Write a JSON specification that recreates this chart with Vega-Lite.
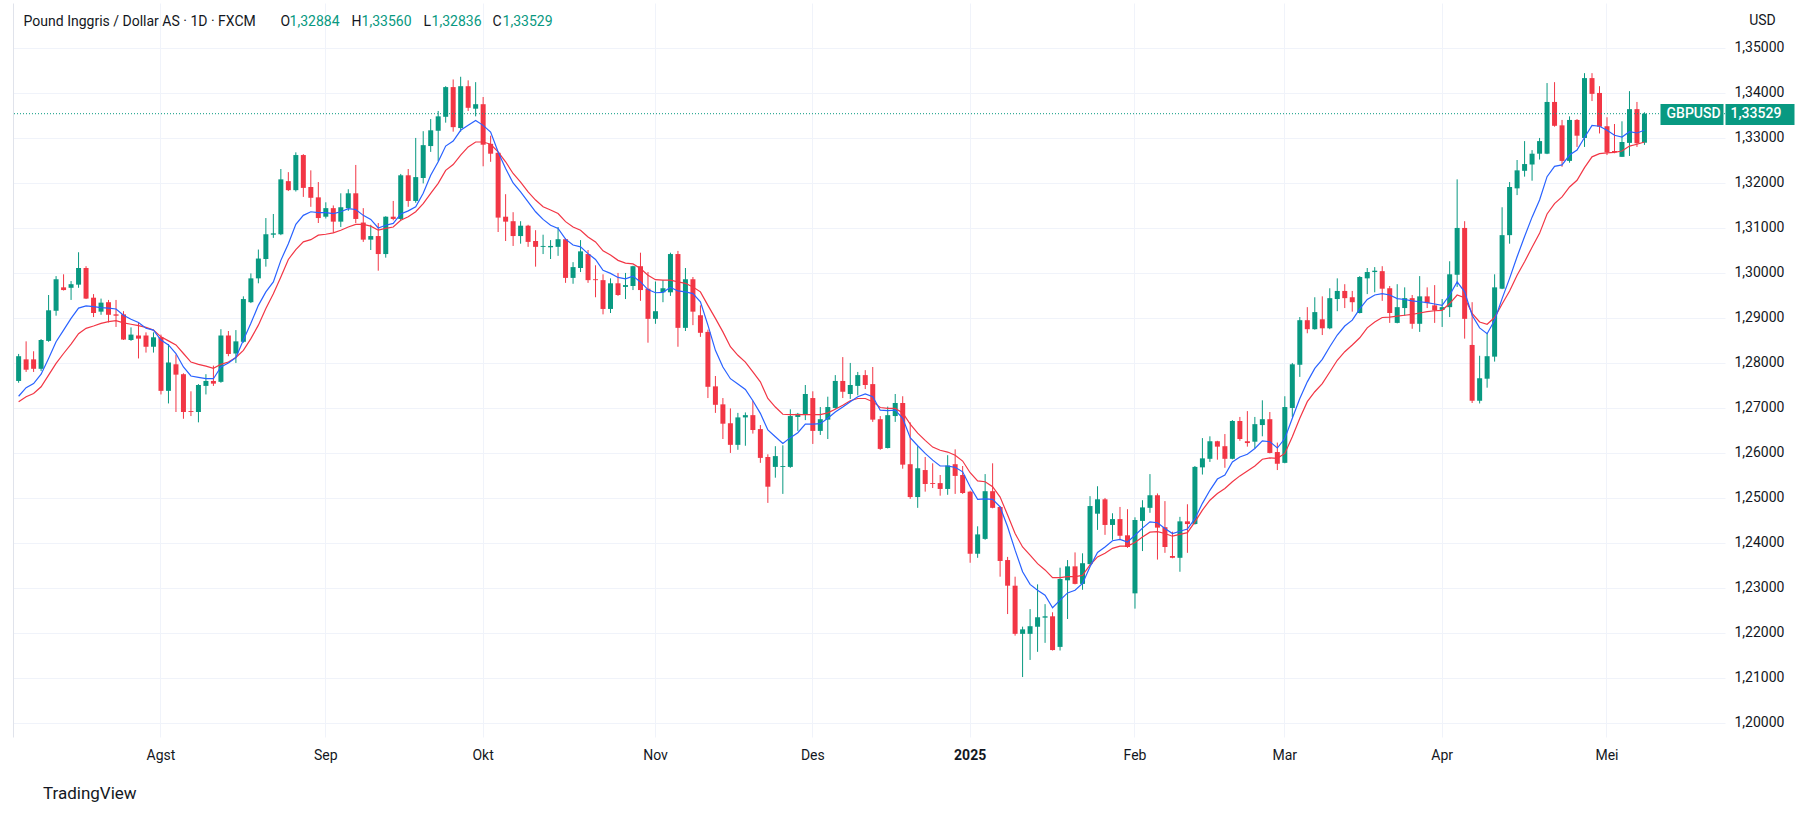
{
  "$schema": "https://vega.github.io/schema/vega-lite/v6.json",
  "width": 1712,
  "height": 734,
  "autosize": {"type": "none"},
  "padding": {"left": 13, "top": 3, "right": 88, "bottom": 79},
  "background": "#ffffff",
  "config": {
    "view": {"stroke": null},
    "font": "Roboto",
    "axis": {"domain": false, "ticks": false, "tickSize": 0, "labelFont": "Roboto", "labelColor": "#131722", "titleFont": "Roboto"}
  },
  "title": {"text": "TradingView", "orient": "bottom", "anchor": "start", "frame": "group", "dx": 30, "offset": 24, "fontSize": 17, "fontWeight": "normal", "color": "#131722", "font": "Roboto"},
  "data": {"values": [
    {"d":"2024-07-05","o":1.2759,"h":1.2819,"l":1.2755,"c":1.2814,"m1":1.2725,"m2":1.2713},
    {"d":"2024-07-08","o":1.2807,"h":1.2847,"l":1.2779,"c":1.2784,"m1":1.2744,"m2":1.2724},
    {"d":"2024-07-09","o":1.2807,"h":1.2825,"l":1.2779,"c":1.2786,"m1":1.2753,"m2":1.2731},
    {"d":"2024-07-10","o":1.2786,"h":1.2852,"l":1.2781,"c":1.2850,"m1":1.2774,"m2":1.2746},
    {"d":"2024-07-11","o":1.2848,"h":1.2950,"l":1.2846,"c":1.2916,"m1":1.2809,"m2":1.2772},
    {"d":"2024-07-12","o":1.2915,"h":1.2992,"l":1.2904,"c":1.2985,"m1":1.2846,"m2":1.2798},
    {"d":"2024-07-15","o":1.2967,"h":1.2996,"l":1.2960,"c":1.2961,"m1":1.2872,"m2":1.2820},
    {"d":"2024-07-16","o":1.2966,"h":1.2981,"l":1.2939,"c":1.2974,"m1":1.2898,"m2":1.2841},
    {"d":"2024-07-17","o":1.2973,"h":1.3045,"l":1.2966,"c":1.3010,"m1":1.2921,"m2":1.2864},
    {"d":"2024-07-18","o":1.3010,"h":1.3014,"l":1.2941,"c":1.2942,"m1":1.2926,"m2":1.2876},
    {"d":"2024-07-19","o":1.2944,"h":1.2952,"l":1.2901,"c":1.2910,"m1":1.2924,"m2":1.2881},
    {"d":"2024-07-22","o":1.2913,"h":1.2942,"l":1.2906,"c":1.2933,"m1":1.2922,"m2":1.2887},
    {"d":"2024-07-23","o":1.2934,"h":1.2939,"l":1.2889,"c":1.2906,"m1":1.2921,"m2":1.2891},
    {"d":"2024-07-24","o":1.2907,"h":1.2939,"l":1.2879,"c":1.2904,"m1":1.2919,"m2":1.2893},
    {"d":"2024-07-25","o":1.2907,"h":1.2914,"l":1.2850,"c":1.2851,"m1":1.2905,"m2":1.2888},
    {"d":"2024-07-26","o":1.2850,"h":1.2878,"l":1.2848,"c":1.2862,"m1":1.2896,"m2":1.2885},
    {"d":"2024-07-29","o":1.2860,"h":1.2889,"l":1.2809,"c":1.2853,"m1":1.2889,"m2":1.2882},
    {"d":"2024-07-30","o":1.2860,"h":1.2867,"l":1.2822,"c":1.2835,"m1":1.2876,"m2":1.2878},
    {"d":"2024-07-31","o":1.2835,"h":1.2867,"l":1.2822,"c":1.2856,"m1":1.2872,"m2":1.2872},
    {"d":"2024-08-01","o":1.2856,"h":1.2862,"l":1.2729,"c":1.2737,"m1":1.2850,"m2":1.2857},
    {"d":"2024-08-02","o":1.2737,"h":1.2841,"l":1.2709,"c":1.2800,"m1":1.2839,"m2":1.2848},
    {"d":"2024-08-05","o":1.2796,"h":1.2818,"l":1.2690,"c":1.2773,"m1":1.2820,"m2":1.2839},
    {"d":"2024-08-06","o":1.2774,"h":1.2776,"l":1.2675,"c":1.2690,"m1":1.2790,"m2":1.2820},
    {"d":"2024-08-07","o":1.2692,"h":1.2736,"l":1.2681,"c":1.2690,"m1":1.2770,"m2":1.2801},
    {"d":"2024-08-08","o":1.2690,"h":1.2752,"l":1.2667,"c":1.2750,"m1":1.2767,"m2":1.2796},
    {"d":"2024-08-09","o":1.2748,"h":1.2774,"l":1.2729,"c":1.2759,"m1":1.2764,"m2":1.2792},
    {"d":"2024-08-12","o":1.2759,"h":1.2793,"l":1.2748,"c":1.2753,"m1":1.2764,"m2":1.2787},
    {"d":"2024-08-13","o":1.2757,"h":1.2874,"l":1.2755,"c":1.2860,"m1":1.2790,"m2":1.2796},
    {"d":"2024-08-14","o":1.2860,"h":1.2870,"l":1.2814,"c":1.2819,"m1":1.2799,"m2":1.2801},
    {"d":"2024-08-15","o":1.2820,"h":1.2872,"l":1.2799,"c":1.2847,"m1":1.2811,"m2":1.2811},
    {"d":"2024-08-16","o":1.2846,"h":1.2947,"l":1.2844,"c":1.2941,"m1":1.2850,"m2":1.2827},
    {"d":"2024-08-19","o":1.2934,"h":1.2998,"l":1.2932,"c":1.2987,"m1":1.2887,"m2":1.2853},
    {"d":"2024-08-20","o":1.2987,"h":1.3051,"l":1.2976,"c":1.3031,"m1":1.2927,"m2":1.2883},
    {"d":"2024-08-21","o":1.3030,"h":1.3121,"l":1.3013,"c":1.3085,"m1":1.2957,"m2":1.2920},
    {"d":"2024-08-22","o":1.3084,"h":1.3130,"l":1.3077,"c":1.3087,"m1":1.2979,"m2":1.2953},
    {"d":"2024-08-23","o":1.3085,"h":1.3230,"l":1.3083,"c":1.3207,"m1":1.3027,"m2":1.2990},
    {"d":"2024-08-26","o":1.3203,"h":1.3223,"l":1.3181,"c":1.3183,"m1":1.3064,"m2":1.3029},
    {"d":"2024-08-27","o":1.3183,"h":1.3267,"l":1.3180,"c":1.3261,"m1":1.3107,"m2":1.3051},
    {"d":"2024-08-28","o":1.3261,"h":1.3263,"l":1.3168,"c":1.3188,"m1":1.3127,"m2":1.3068},
    {"d":"2024-08-29","o":1.3190,"h":1.3227,"l":1.3146,"c":1.3166,"m1":1.3135,"m2":1.3073},
    {"d":"2024-08-30","o":1.3167,"h":1.3201,"l":1.3110,"c":1.3121,"m1":1.3133,"m2":1.3083},
    {"d":"2024-09-02","o":1.3124,"h":1.3156,"l":1.3120,"c":1.3143,"m1":1.3133,"m2":1.3085},
    {"d":"2024-09-03","o":1.3143,"h":1.3149,"l":1.3088,"c":1.3113,"m1":1.3131,"m2":1.3088},
    {"d":"2024-09-04","o":1.3113,"h":1.3176,"l":1.3101,"c":1.3145,"m1":1.3135,"m2":1.3094},
    {"d":"2024-09-05","o":1.3143,"h":1.3185,"l":1.3137,"c":1.3176,"m1":1.3142,"m2":1.3101},
    {"d":"2024-09-06","o":1.3176,"h":1.3239,"l":1.3110,"c":1.3119,"m1":1.3140,"m2":1.3107},
    {"d":"2024-09-09","o":1.3111,"h":1.3143,"l":1.3068,"c":1.3073,"m1":1.3127,"m2":1.3107},
    {"d":"2024-09-10","o":1.3073,"h":1.3106,"l":1.3050,"c":1.3081,"m1":1.3118,"m2":1.3103},
    {"d":"2024-09-11","o":1.3081,"h":1.3110,"l":1.3004,"c":1.3041,"m1":1.3099,"m2":1.3094},
    {"d":"2024-09-12","o":1.3041,"h":1.3125,"l":1.3033,"c":1.3124,"m1":1.3105,"m2":1.3098},
    {"d":"2024-09-13","o":1.3124,"h":1.3159,"l":1.3116,"c":1.3119,"m1":1.3109,"m2":1.3101},
    {"d":"2024-09-16","o":1.3119,"h":1.3219,"l":1.3115,"c":1.3216,"m1":1.3130,"m2":1.3116},
    {"d":"2024-09-17","o":1.3216,"h":1.3230,"l":1.3146,"c":1.3159,"m1":1.3137,"m2":1.3124},
    {"d":"2024-09-18","o":1.3159,"h":1.3299,"l":1.3155,"c":1.3212,"m1":1.3146,"m2":1.3135},
    {"d":"2024-09-19","o":1.3210,"h":1.3314,"l":1.3198,"c":1.3283,"m1":1.3176,"m2":1.3153},
    {"d":"2024-09-20","o":1.3281,"h":1.3341,"l":1.3268,"c":1.3316,"m1":1.3216,"m2":1.3176},
    {"d":"2024-09-23","o":1.3315,"h":1.3359,"l":1.3247,"c":1.3347,"m1":1.3246,"m2":1.3198},
    {"d":"2024-09-24","o":1.3346,"h":1.3414,"l":1.3333,"c":1.3412,"m1":1.3281,"m2":1.3227},
    {"d":"2024-09-25","o":1.3412,"h":1.3429,"l":1.3313,"c":1.3323,"m1":1.3292,"m2":1.3240},
    {"d":"2024-09-26","o":1.3321,"h":1.3435,"l":1.3313,"c":1.3414,"m1":1.3316,"m2":1.3261},
    {"d":"2024-09-27","o":1.3414,"h":1.3427,"l":1.3359,"c":1.3366,"m1":1.3327,"m2":1.3279},
    {"d":"2024-09-30","o":1.3364,"h":1.3423,"l":1.3347,"c":1.3374,"m1":1.3338,"m2":1.3290},
    {"d":"2024-10-01","o":1.3374,"h":1.3390,"l":1.3236,"c":1.3284,"m1":1.3327,"m2":1.3290},
    {"d":"2024-10-02","o":1.3286,"h":1.3304,"l":1.3246,"c":1.3264,"m1":1.3312,"m2":1.3285},
    {"d":"2024-10-03","o":1.3266,"h":1.3268,"l":1.3090,"c":1.3122,"m1":1.3268,"m2":1.3268},
    {"d":"2024-10-04","o":1.3124,"h":1.3174,"l":1.3070,"c":1.3113,"m1":1.3231,"m2":1.3246},
    {"d":"2024-10-07","o":1.3114,"h":1.3134,"l":1.3059,"c":1.3081,"m1":1.3199,"m2":1.3220},
    {"d":"2024-10-08","o":1.3081,"h":1.3114,"l":1.3064,"c":1.3104,"m1":1.3179,"m2":1.3201},
    {"d":"2024-10-09","o":1.3104,"h":1.3106,"l":1.3057,"c":1.3068,"m1":1.3157,"m2":1.3179},
    {"d":"2024-10-10","o":1.3070,"h":1.3094,"l":1.3013,"c":1.3057,"m1":1.3135,"m2":1.3161},
    {"d":"2024-10-11","o":1.3057,"h":1.3084,"l":1.3041,"c":1.3059,"m1":1.3118,"m2":1.3146},
    {"d":"2024-10-14","o":1.3056,"h":1.3072,"l":1.3030,"c":1.3059,"m1":1.3105,"m2":1.3139},
    {"d":"2024-10-15","o":1.3057,"h":1.3101,"l":1.3037,"c":1.3074,"m1":1.3098,"m2":1.3131},
    {"d":"2024-10-16","o":1.3074,"h":1.3076,"l":1.2977,"c":1.2988,"m1":1.3074,"m2":1.3113},
    {"d":"2024-10-17","o":1.2988,"h":1.3023,"l":1.2975,"c":1.3012,"m1":1.3061,"m2":1.3101},
    {"d":"2024-10-18","o":1.3010,"h":1.3072,"l":1.3001,"c":1.3047,"m1":1.3057,"m2":1.3094},
    {"d":"2024-10-21","o":1.3041,"h":1.3050,"l":1.2977,"c":1.2983,"m1":1.3042,"m2":1.3079},
    {"d":"2024-10-22","o":1.2985,"h":1.3016,"l":1.2945,"c":1.2983,"m1":1.3029,"m2":1.3068},
    {"d":"2024-10-23","o":1.2983,"h":1.2996,"l":1.2907,"c":1.2919,"m1":1.3005,"m2":1.3048},
    {"d":"2024-10-24","o":1.2919,"h":1.2987,"l":1.2910,"c":1.2976,"m1":1.2998,"m2":1.3039},
    {"d":"2024-10-25","o":1.2976,"h":1.2999,"l":1.2948,"c":1.2950,"m1":1.2989,"m2":1.3027},
    {"d":"2024-10-28","o":1.2968,"h":1.2999,"l":1.2941,"c":1.2972,"m1":1.2986,"m2":1.3021},
    {"d":"2024-10-29","o":1.2970,"h":1.3015,"l":1.2961,"c":1.3014,"m1":1.2992,"m2":1.3019},
    {"d":"2024-10-30","o":1.3014,"h":1.3044,"l":1.2937,"c":1.2961,"m1":1.2979,"m2":1.3009},
    {"d":"2024-10-31","o":1.2964,"h":1.3001,"l":1.2844,"c":1.2897,"m1":1.2962,"m2":1.2994},
    {"d":"2024-11-01","o":1.2897,"h":1.2980,"l":1.2886,"c":1.2914,"m1":1.2955,"m2":1.2984},
    {"d":"2024-11-04","o":1.2956,"h":1.2983,"l":1.2934,"c":1.2965,"m1":1.2956,"m2":1.2983},
    {"d":"2024-11-05","o":1.2956,"h":1.3044,"l":1.2948,"c":1.3041,"m1":1.2967,"m2":1.2983},
    {"d":"2024-11-06","o":1.3041,"h":1.3048,"l":1.2835,"c":1.2877,"m1":1.2959,"m2":1.2979},
    {"d":"2024-11-07","o":1.2877,"h":1.3010,"l":1.2870,"c":1.2985,"m1":1.2957,"m2":1.2976},
    {"d":"2024-11-08","o":1.2985,"h":1.2990,"l":1.2883,"c":1.2913,"m1":1.2953,"m2":1.2968},
    {"d":"2024-11-11","o":1.2905,"h":1.2927,"l":1.2857,"c":1.2866,"m1":1.2935,"m2":1.2957},
    {"d":"2024-11-12","o":1.2868,"h":1.2873,"l":1.2721,"c":1.2746,"m1":1.2883,"m2":1.2927},
    {"d":"2024-11-13","o":1.2747,"h":1.2770,"l":1.2688,"c":1.2706,"m1":1.2827,"m2":1.2898},
    {"d":"2024-11-14","o":1.2707,"h":1.2721,"l":1.2630,"c":1.2664,"m1":1.2790,"m2":1.2868},
    {"d":"2024-11-15","o":1.2665,"h":1.2698,"l":1.2599,"c":1.2617,"m1":1.2764,"m2":1.2835},
    {"d":"2024-11-18","o":1.2617,"h":1.2688,"l":1.2606,"c":1.2678,"m1":1.2752,"m2":1.2816},
    {"d":"2024-11-19","o":1.2678,"h":1.2689,"l":1.2615,"c":1.2683,"m1":1.2740,"m2":1.2801},
    {"d":"2024-11-20","o":1.2683,"h":1.2715,"l":1.2642,"c":1.2650,"m1":1.2715,"m2":1.2779},
    {"d":"2024-11-21","o":1.2652,"h":1.2661,"l":1.2577,"c":1.2588,"m1":1.2687,"m2":1.2757},
    {"d":"2024-11-22","o":1.2590,"h":1.2596,"l":1.2488,"c":1.2524,"m1":1.2650,"m2":1.2720},
    {"d":"2024-11-25","o":1.2568,"h":1.2614,"l":1.2544,"c":1.2592,"m1":1.2635,"m2":1.2701},
    {"d":"2024-11-26","o":1.2568,"h":1.2616,"l":1.2508,"c":1.2570,"m1":1.2620,"m2":1.2685},
    {"d":"2024-11-27","o":1.2568,"h":1.2696,"l":1.2566,"c":1.2681,"m1":1.2633,"m2":1.2684},
    {"d":"2024-11-28","o":1.2679,"h":1.2688,"l":1.2648,"c":1.2686,"m1":1.2644,"m2":1.2684},
    {"d":"2024-11-29","o":1.2685,"h":1.2750,"l":1.2672,"c":1.2730,"m1":1.2663,"m2":1.2684},
    {"d":"2024-12-02","o":1.2721,"h":1.2736,"l":1.2619,"c":1.2648,"m1":1.2663,"m2":1.2684},
    {"d":"2024-12-03","o":1.2648,"h":1.2701,"l":1.2639,"c":1.2674,"m1":1.2664,"m2":1.2684},
    {"d":"2024-12-04","o":1.2673,"h":1.2724,"l":1.2630,"c":1.2701,"m1":1.2676,"m2":1.2688},
    {"d":"2024-12-05","o":1.2699,"h":1.2772,"l":1.2697,"c":1.2759,"m1":1.2690,"m2":1.2696},
    {"d":"2024-12-06","o":1.2759,"h":1.2812,"l":1.2721,"c":1.2735,"m1":1.2701,"m2":1.2705},
    {"d":"2024-12-09","o":1.2730,"h":1.2799,"l":1.2719,"c":1.2750,"m1":1.2713,"m2":1.2715},
    {"d":"2024-12-10","o":1.2748,"h":1.2779,"l":1.2727,"c":1.2772,"m1":1.2724,"m2":1.2720},
    {"d":"2024-12-11","o":1.2772,"h":1.2783,"l":1.2741,"c":1.2750,"m1":1.2730,"m2":1.2720},
    {"d":"2024-12-12","o":1.2752,"h":1.2790,"l":1.2668,"c":1.2673,"m1":1.2724,"m2":1.2713},
    {"d":"2024-12-13","o":1.2674,"h":1.2681,"l":1.2606,"c":1.2608,"m1":1.2694,"m2":1.2700},
    {"d":"2024-12-16","o":1.2610,"h":1.2702,"l":1.2609,"c":1.2683,"m1":1.2693,"m2":1.2698},
    {"d":"2024-12-17","o":1.2681,"h":1.2730,"l":1.2668,"c":1.2710,"m1":1.2694,"m2":1.2698},
    {"d":"2024-12-18","o":1.2710,"h":1.2725,"l":1.2564,"c":1.2573,"m1":1.2676,"m2":1.2688},
    {"d":"2024-12-19","o":1.2574,"h":1.2667,"l":1.2497,"c":1.2501,"m1":1.2633,"m2":1.2663},
    {"d":"2024-12-20","o":1.2501,"h":1.2614,"l":1.2477,"c":1.2565,"m1":1.2615,"m2":1.2643},
    {"d":"2024-12-23","o":1.2561,"h":1.2590,"l":1.2513,"c":1.2530,"m1":1.2598,"m2":1.2627},
    {"d":"2024-12-24","o":1.2532,"h":1.2576,"l":1.2521,"c":1.2530,"m1":1.2583,"m2":1.2612},
    {"d":"2024-12-26","o":1.2532,"h":1.2550,"l":1.2504,"c":1.2519,"m1":1.2570,"m2":1.2605},
    {"d":"2024-12-27","o":1.2519,"h":1.2594,"l":1.2506,"c":1.2571,"m1":1.2570,"m2":1.2601},
    {"d":"2024-12-30","o":1.2574,"h":1.2607,"l":1.2508,"c":1.2548,"m1":1.2567,"m2":1.2594},
    {"d":"2024-12-31","o":1.2550,"h":1.2570,"l":1.2508,"c":1.2510,"m1":1.2557,"m2":1.2581},
    {"d":"2025-01-02","o":1.2513,"h":1.2515,"l":1.2355,"c":1.2375,"m1":1.2524,"m2":1.2555},
    {"d":"2025-01-03","o":1.2375,"h":1.2436,"l":1.2366,"c":1.2418,"m1":1.2496,"m2":1.2537},
    {"d":"2025-01-06","o":1.2408,"h":1.2552,"l":1.2406,"c":1.2514,"m1":1.2497,"m2":1.2535},
    {"d":"2025-01-07","o":1.2514,"h":1.2576,"l":1.2476,"c":1.2477,"m1":1.2496,"m2":1.2524},
    {"d":"2025-01-08","o":1.2479,"h":1.2481,"l":1.2324,"c":1.2359,"m1":1.2479,"m2":1.2501},
    {"d":"2025-01-09","o":1.2361,"h":1.2368,"l":1.2241,"c":1.2304,"m1":1.2435,"m2":1.2461},
    {"d":"2025-01-10","o":1.2304,"h":1.2324,"l":1.2193,"c":1.2197,"m1":1.2383,"m2":1.2420},
    {"d":"2025-01-13","o":1.2197,"h":1.2213,"l":1.2101,"c":1.2207,"m1":1.2335,"m2":1.2390},
    {"d":"2025-01-14","o":1.2197,"h":1.2252,"l":1.2139,"c":1.2214,"m1":1.2307,"m2":1.2372},
    {"d":"2025-01-15","o":1.2213,"h":1.2307,"l":1.2157,"c":1.2234,"m1":1.2294,"m2":1.2353},
    {"d":"2025-01-16","o":1.2233,"h":1.2263,"l":1.2177,"c":1.2236,"m1":1.2283,"m2":1.2339},
    {"d":"2025-01-17","o":1.2236,"h":1.2245,"l":1.2160,"c":1.2161,"m1":1.2255,"m2":1.2322},
    {"d":"2025-01-20","o":1.2168,"h":1.2344,"l":1.2160,"c":1.2319,"m1":1.2272,"m2":1.2322},
    {"d":"2025-01-21","o":1.2316,"h":1.2361,"l":1.2230,"c":1.2347,"m1":1.2288,"m2":1.2324},
    {"d":"2025-01-22","o":1.2347,"h":1.2378,"l":1.2307,"c":1.2308,"m1":1.2294,"m2":1.2324},
    {"d":"2025-01-23","o":1.2308,"h":1.2376,"l":1.2295,"c":1.2354,"m1":1.2309,"m2":1.2327},
    {"d":"2025-01-24","o":1.2352,"h":1.2503,"l":1.2351,"c":1.2481,"m1":1.2346,"m2":1.2350},
    {"d":"2025-01-27","o":1.2464,"h":1.2525,"l":1.2428,"c":1.2496,"m1":1.2378,"m2":1.2368},
    {"d":"2025-01-28","o":1.2496,"h":1.2499,"l":1.2417,"c":1.2439,"m1":1.2390,"m2":1.2376},
    {"d":"2025-01-29","o":1.2439,"h":1.2465,"l":1.2406,"c":1.2452,"m1":1.2404,"m2":1.2387},
    {"d":"2025-01-30","o":1.2452,"h":1.2479,"l":1.2406,"c":1.2415,"m1":1.2407,"m2":1.2392},
    {"d":"2025-01-31","o":1.2416,"h":1.2474,"l":1.2388,"c":1.2390,"m1":1.2401,"m2":1.2392},
    {"d":"2025-02-03","o":1.2287,"h":1.2456,"l":1.2253,"c":1.2450,"m1":1.2416,"m2":1.2400},
    {"d":"2025-02-04","o":1.2448,"h":1.2494,"l":1.2381,"c":1.2478,"m1":1.2432,"m2":1.2412},
    {"d":"2025-02-05","o":1.2477,"h":1.2552,"l":1.2466,"c":1.2505,"m1":1.2446,"m2":1.2423},
    {"d":"2025-02-06","o":1.2505,"h":1.2509,"l":1.2362,"c":1.2433,"m1":1.2444,"m2":1.2424},
    {"d":"2025-02-07","o":1.2434,"h":1.2492,"l":1.2377,"c":1.2390,"m1":1.2431,"m2":1.2420},
    {"d":"2025-02-10","o":1.2370,"h":1.2424,"l":1.2365,"c":1.2366,"m1":1.2420,"m2":1.2414},
    {"d":"2025-02-11","o":1.2366,"h":1.2457,"l":1.2335,"c":1.2447,"m1":1.2425,"m2":1.2418},
    {"d":"2025-02-12","o":1.2447,"h":1.2485,"l":1.2377,"c":1.2441,"m1":1.2430,"m2":1.2422},
    {"d":"2025-02-13","o":1.2441,"h":1.2570,"l":1.2440,"c":1.2568,"m1":1.2453,"m2":1.2446},
    {"d":"2025-02-14","o":1.2567,"h":1.2632,"l":1.2551,"c":1.2587,"m1":1.2487,"m2":1.2472},
    {"d":"2025-02-17","o":1.2586,"h":1.2636,"l":1.2579,"c":1.2625,"m1":1.2516,"m2":1.2494},
    {"d":"2025-02-18","o":1.2625,"h":1.2626,"l":1.2584,"c":1.2613,"m1":1.2541,"m2":1.2509},
    {"d":"2025-02-19","o":1.2614,"h":1.2641,"l":1.2566,"c":1.2586,"m1":1.2550,"m2":1.2520},
    {"d":"2025-02-20","o":1.2586,"h":1.2672,"l":1.2585,"c":1.2670,"m1":1.2579,"m2":1.2535},
    {"d":"2025-02-21","o":1.2670,"h":1.2679,"l":1.2626,"c":1.2630,"m1":1.2590,"m2":1.2548},
    {"d":"2025-02-24","o":1.2625,"h":1.2692,"l":1.2613,"c":1.2621,"m1":1.2596,"m2":1.2559},
    {"d":"2025-02-25","o":1.2624,"h":1.2679,"l":1.2609,"c":1.2663,"m1":1.2609,"m2":1.2570},
    {"d":"2025-02-26","o":1.2661,"h":1.2716,"l":1.2636,"c":1.2674,"m1":1.2626,"m2":1.2585},
    {"d":"2025-02-27","o":1.2674,"h":1.2690,"l":1.2598,"c":1.2599,"m1":1.2624,"m2":1.2588},
    {"d":"2025-02-28","o":1.2601,"h":1.2622,"l":1.2561,"c":1.2575,"m1":1.2610,"m2":1.2587},
    {"d":"2025-03-03","o":1.2577,"h":1.2725,"l":1.2576,"c":1.2701,"m1":1.2631,"m2":1.2598},
    {"d":"2025-03-04","o":1.2699,"h":1.2799,"l":1.2679,"c":1.2796,"m1":1.2676,"m2":1.2635},
    {"d":"2025-03-05","o":1.2795,"h":1.2901,"l":1.2768,"c":1.2894,"m1":1.2720,"m2":1.2676},
    {"d":"2025-03-06","o":1.2894,"h":1.2923,"l":1.2865,"c":1.2874,"m1":1.2757,"m2":1.2713},
    {"d":"2025-03-07","o":1.2874,"h":1.2945,"l":1.2873,"c":1.2912,"m1":1.2787,"m2":1.2735},
    {"d":"2025-03-10","o":1.2896,"h":1.2947,"l":1.2861,"c":1.2876,"m1":1.2807,"m2":1.2753},
    {"d":"2025-03-11","o":1.2876,"h":1.2965,"l":1.2874,"c":1.2943,"m1":1.2835,"m2":1.2779},
    {"d":"2025-03-12","o":1.2941,"h":1.2987,"l":1.2914,"c":1.2959,"m1":1.2861,"m2":1.2805},
    {"d":"2025-03-13","o":1.2959,"h":1.2974,"l":1.2921,"c":1.2943,"m1":1.2881,"m2":1.2824},
    {"d":"2025-03-14","o":1.2945,"h":1.2959,"l":1.2913,"c":1.2934,"m1":1.2894,"m2":1.2839},
    {"d":"2025-03-17","o":1.2910,"h":1.2992,"l":1.2909,"c":1.2990,"m1":1.2919,"m2":1.2855},
    {"d":"2025-03-18","o":1.2987,"h":1.3010,"l":1.2952,"c":1.3001,"m1":1.2940,"m2":1.2877},
    {"d":"2025-03-19","o":1.3001,"h":1.3012,"l":1.2956,"c":1.3004,"m1":1.2950,"m2":1.2890},
    {"d":"2025-03-20","o":1.3003,"h":1.3014,"l":1.2937,"c":1.2964,"m1":1.2953,"m2":1.2900},
    {"d":"2025-03-21","o":1.2965,"h":1.2970,"l":1.2888,"c":1.2910,"m1":1.2950,"m2":1.2901},
    {"d":"2025-03-24","o":1.2888,"h":1.2974,"l":1.2887,"c":1.2923,"m1":1.2942,"m2":1.2903},
    {"d":"2025-03-25","o":1.2921,"h":1.2967,"l":1.2904,"c":1.2943,"m1":1.2940,"m2":1.2905},
    {"d":"2025-03-26","o":1.2943,"h":1.2950,"l":1.2875,"c":1.2886,"m1":1.2937,"m2":1.2907},
    {"d":"2025-03-27","o":1.2886,"h":1.2992,"l":1.2868,"c":1.2947,"m1":1.2935,"m2":1.2910},
    {"d":"2025-03-28","o":1.2947,"h":1.2967,"l":1.2921,"c":1.2932,"m1":1.2933,"m2":1.2913},
    {"d":"2025-03-31","o":1.2927,"h":1.2972,"l":1.2888,"c":1.2916,"m1":1.2930,"m2":1.2915},
    {"d":"2025-04-01","o":1.2917,"h":1.2941,"l":1.2879,"c":1.2923,"m1":1.2927,"m2":1.2916},
    {"d":"2025-04-02","o":1.2923,"h":1.3025,"l":1.2901,"c":1.2996,"m1":1.2950,"m2":1.2931},
    {"d":"2025-04-03","o":1.2995,"h":1.3207,"l":1.2968,"c":1.3099,"m1":1.2979,"m2":1.2950},
    {"d":"2025-04-04","o":1.3099,"h":1.3114,"l":1.2853,"c":1.2897,"m1":1.2957,"m2":1.2944},
    {"d":"2025-04-07","o":1.2839,"h":1.2934,"l":1.2710,"c":1.2715,"m1":1.2905,"m2":1.2909},
    {"d":"2025-04-08","o":1.2715,"h":1.2815,"l":1.2709,"c":1.2765,"m1":1.2877,"m2":1.2890},
    {"d":"2025-04-09","o":1.2764,"h":1.2866,"l":1.2744,"c":1.2814,"m1":1.2864,"m2":1.2885},
    {"d":"2025-04-10","o":1.2813,"h":1.2996,"l":1.2802,"c":1.2967,"m1":1.2894,"m2":1.2900},
    {"d":"2025-04-11","o":1.2964,"h":1.3145,"l":1.2963,"c":1.3083,"m1":1.2942,"m2":1.2930},
    {"d":"2025-04-14","o":1.3083,"h":1.3201,"l":1.3064,"c":1.3190,"m1":1.2987,"m2":1.2959},
    {"d":"2025-04-15","o":1.3187,"h":1.3250,"l":1.3172,"c":1.3227,"m1":1.3035,"m2":1.2994},
    {"d":"2025-04-16","o":1.3226,"h":1.3292,"l":1.3213,"c":1.3241,"m1":1.3080,"m2":1.3024},
    {"d":"2025-04-17","o":1.3240,"h":1.3272,"l":1.3204,"c":1.3264,"m1":1.3123,"m2":1.3056},
    {"d":"2025-04-18","o":1.3264,"h":1.3299,"l":1.3251,"c":1.3292,"m1":1.3161,"m2":1.3087},
    {"d":"2025-04-21","o":1.3264,"h":1.3421,"l":1.3263,"c":1.3379,"m1":1.3213,"m2":1.3130},
    {"d":"2025-04-22","o":1.3379,"h":1.3423,"l":1.3324,"c":1.3326,"m1":1.3236,"m2":1.3153},
    {"d":"2025-04-23","o":1.3327,"h":1.3339,"l":1.3235,"c":1.3248,"m1":1.3239,"m2":1.3168},
    {"d":"2025-04-24","o":1.3248,"h":1.3347,"l":1.3244,"c":1.3339,"m1":1.3261,"m2":1.3190},
    {"d":"2025-04-25","o":1.3339,"h":1.3341,"l":1.3279,"c":1.3304,"m1":1.3272,"m2":1.3205},
    {"d":"2025-04-28","o":1.3299,"h":1.3443,"l":1.3279,"c":1.3432,"m1":1.3300,"m2":1.3233},
    {"d":"2025-04-29","o":1.3432,"h":1.3443,"l":1.3381,"c":1.3397,"m1":1.3327,"m2":1.3257},
    {"d":"2025-04-30","o":1.3399,"h":1.3414,"l":1.3309,"c":1.3324,"m1":1.3325,"m2":1.3264},
    {"d":"2025-05-01","o":1.3325,"h":1.3345,"l":1.3261,"c":1.3267,"m1":1.3316,"m2":1.3266},
    {"d":"2025-05-02","o":1.3270,"h":1.3330,"l":1.3265,"c":1.3267,"m1":1.3305,"m2":1.3267},
    {"d":"2025-05-05","o":1.3257,"h":1.3336,"l":1.3257,"c":1.3290,"m1":1.3301,"m2":1.3270},
    {"d":"2025-05-06","o":1.3288,"h":1.3403,"l":1.3259,"c":1.3363,"m1":1.3313,"m2":1.3281},
    {"d":"2025-05-07","o":1.3363,"h":1.3379,"l":1.3279,"c":1.3287,"m1":1.3310,"m2":1.3285},
    {"d":"2025-05-08","o":1.32884,"h":1.3356,"l":1.32836,"c":1.33529,"m1":1.3316,"m2":1.3290}
  ]},
  "layer": [
    {
      "mark": {"type": "rule", "strokeWidth": 1},
      "encoding": {
        "x": {"field": "d", "type": "ordinal", "title": null,
              "scale": {"type": "band", "paddingInner": 0, "paddingOuter": 0.25,
                        "domain": ["2024-07-05","2024-07-08","2024-07-09","2024-07-10","2024-07-11","2024-07-12","2024-07-15","2024-07-16","2024-07-17","2024-07-18","2024-07-19","2024-07-22","2024-07-23","2024-07-24","2024-07-25","2024-07-26","2024-07-29","2024-07-30","2024-07-31",
                                   "2024-08-01","2024-08-02","2024-08-05","2024-08-06","2024-08-07","2024-08-08","2024-08-09","2024-08-12","2024-08-13","2024-08-14","2024-08-15","2024-08-16","2024-08-19","2024-08-20","2024-08-21","2024-08-22","2024-08-23","2024-08-26","2024-08-27","2024-08-28","2024-08-29","2024-08-30",
                                   "2024-09-02","2024-09-03","2024-09-04","2024-09-05","2024-09-06","2024-09-09","2024-09-10","2024-09-11","2024-09-12","2024-09-13","2024-09-16","2024-09-17","2024-09-18","2024-09-19","2024-09-20","2024-09-23","2024-09-24","2024-09-25","2024-09-26","2024-09-27","2024-09-30",
                                   "2024-10-01","2024-10-02","2024-10-03","2024-10-04","2024-10-07","2024-10-08","2024-10-09","2024-10-10","2024-10-11","2024-10-14","2024-10-15","2024-10-16","2024-10-17","2024-10-18","2024-10-21","2024-10-22","2024-10-23","2024-10-24","2024-10-25","2024-10-28","2024-10-29","2024-10-30","2024-10-31",
                                   "2024-11-01","2024-11-04","2024-11-05","2024-11-06","2024-11-07","2024-11-08","2024-11-11","2024-11-12","2024-11-13","2024-11-14","2024-11-15","2024-11-18","2024-11-19","2024-11-20","2024-11-21","2024-11-22","2024-11-25","2024-11-26","2024-11-27","2024-11-28","2024-11-29",
                                   "2024-12-02","2024-12-03","2024-12-04","2024-12-05","2024-12-06","2024-12-09","2024-12-10","2024-12-11","2024-12-12","2024-12-13","2024-12-16","2024-12-17","2024-12-18","2024-12-19","2024-12-20","2024-12-23","2024-12-24","2024-12-26","2024-12-27","2024-12-30","2024-12-31",
                                   "2025-01-02","2025-01-03","2025-01-06","2025-01-07","2025-01-08","2025-01-09","2025-01-10","2025-01-13","2025-01-14","2025-01-15","2025-01-16","2025-01-17","2025-01-20","2025-01-21","2025-01-22","2025-01-23","2025-01-24","2025-01-27","2025-01-28","2025-01-29","2025-01-30","2025-01-31",
                                   "2025-02-03","2025-02-04","2025-02-05","2025-02-06","2025-02-07","2025-02-10","2025-02-11","2025-02-12","2025-02-13","2025-02-14","2025-02-17","2025-02-18","2025-02-19","2025-02-20","2025-02-21","2025-02-24","2025-02-25","2025-02-26","2025-02-27","2025-02-28",
                                   "2025-03-03","2025-03-04","2025-03-05","2025-03-06","2025-03-07","2025-03-10","2025-03-11","2025-03-12","2025-03-13","2025-03-14","2025-03-17","2025-03-18","2025-03-19","2025-03-20","2025-03-21","2025-03-24","2025-03-25","2025-03-26","2025-03-27","2025-03-28","2025-03-31",
                                   "2025-04-01","2025-04-02","2025-04-03","2025-04-04","2025-04-07","2025-04-08","2025-04-09","2025-04-10","2025-04-11","2025-04-14","2025-04-15","2025-04-16","2025-04-17","2025-04-18","2025-04-21","2025-04-22","2025-04-23","2025-04-24","2025-04-25","2025-04-28","2025-04-29","2025-04-30",
                                   "2025-05-01","2025-05-02","2025-05-05","2025-05-06","2025-05-07","2025-05-08","2025-05-09","2025-05-12","2025-05-13","2025-05-14","2025-05-15","2025-05-16","2025-05-19","2025-05-20","2025-05-21","2025-05-22"]},
              "axis": {"values": ["2024-08-01","2024-09-02","2024-10-01","2024-11-01","2024-12-02","2025-01-02","2025-02-03","2025-03-03","2025-04-01","2025-05-01"],
                       "labelExpr": "['Agst','Sep','Okt','Nov','Des','2025','Feb','Mar','Apr','Mei'][indexof(['2024-08-01','2024-09-02','2024-10-01','2024-11-01','2024-12-02','2025-01-02','2025-02-03','2025-03-03','2025-04-01','2025-05-01'], datum.value)]",
                       "labelAngle": 0, "labelFontSize": 14, "labelPadding": 18, "labelBaseline": "middle", "labelOverlap": false,
                       "labelFontWeight": {"condition": {"test": "datum.value == '2025-01-02'", "value": "bold"}, "value": "normal"},
                       "grid": true, "gridColor": "#f0f3fa", "gridWidth": 1}},
        "y": {"field": "l", "type": "quantitative",
              "scale": {"domain": [1.196778, 1.359889], "nice": false, "zero": false},
              "axis": {"orient": "right", "values": [1.20,1.21,1.22,1.23,1.24,1.25,1.26,1.27,1.28,1.29,1.30,1.31,1.32,1.33,1.34,1.35],
                       "labelExpr": "replace(format(datum.value, '.5f'), '.', ',')",
                       "grid": true, "gridColor": "#f0f3fa", "labelPadding": 9, "labelFontSize": 14, "labelAlign": "left", "labelBaseline": "middle",
                       "title": "USD", "titleAngle": 0, "titleX": 37, "titleY": 17, "titleAlign": "center", "titleBaseline": "middle",
                       "titleFontSize": 14, "titleFontWeight": "normal", "titleColor": "#131722"}},
        "y2": {"field": "h"},
        "color": {"condition": {"test": "datum.c >= datum.o", "value": "#089981"}, "value": "#f23645"}
      }
    },
    {
      "mark": {"type": "bar", "size": 5},
      "encoding": {
        "x": {"field": "d", "type": "ordinal", "title": null},
        "y": {"field": "o", "type": "quantitative",
              "axis": {"orient": "left", "domain": true, "domainColor": "#e0e3eb", "labels": false, "grid": false, "title": null}},
        "y2": {"field": "c"},
        "color": {"condition": {"test": "datum.c >= datum.o", "value": "#089981"}, "value": "#f23645"}
      }
    },
    {
      "mark": {"type": "line", "color": "#f23645", "strokeWidth": 1.2},
      "encoding": {
        "x": {"field": "d", "type": "ordinal", "title": null},
        "y": {"field": "m2", "type": "quantitative", "axis": null}
      }
    },
    {
      "mark": {"type": "line", "color": "#2962ff", "strokeWidth": 1.2},
      "encoding": {
        "x": {"field": "d", "type": "ordinal", "title": null},
        "y": {"field": "m1", "type": "quantitative", "axis": null}
      }
    },
    {
      "data": {"values": [{}]},
      "mark": {"type": "rule", "color": "#089981", "strokeWidth": 1, "strokeDash": [1, 2]},
      "encoding": {
        "y": {"datum": 1.33529, "type": "quantitative",
              "axis": {"orient": "right", "offset": -65, "values": [1.33529], "labelExpr": "'GBPUSD'",
                       "ticks": true, "tickSize": 63, "tickWidth": 21, "tickColor": "#089981",
                       "labelPadding": -57, "labelColor": "#ffffff", "labelFontSize": 14, "labelFontWeight": 500,
                       "labelAlign": "left", "labelBaseline": "middle", "grid": false, "title": null, "zindex": 2}}
      }
    },
    {
      "data": {"values": [{}]},
      "mark": {"type": "rule", "strokeOpacity": 0},
      "encoding": {
        "y": {"datum": 1.33529, "type": "quantitative",
              "axis": {"orient": "right", "values": [1.33529], "labelExpr": "replace(format(datum.value, '.5f'), '.', ',')",
                       "ticks": true, "tickSize": 69, "tickWidth": 21, "tickColor": "#089981",
                       "labelPadding": -64, "labelColor": "#ffffff", "labelFontSize": 14, "labelFontWeight": 500,
                       "labelAlign": "left", "labelBaseline": "middle", "grid": false, "title": null, "zindex": 2}}
      }
    },
    {"data": {"values": [{}]}, "mark": {"type": "text", "text": "Pound Inggris / Dollar AS · 1D · FXCM", "align": "left", "baseline": "middle", "dx": 5, "fontSize": 14, "color": "#131722"},
     "encoding": {"x": {"datum": "2024-07-05", "type": "ordinal"}, "y": {"datum": 1.3557, "type": "quantitative", "axis": null}}},
    {"data": {"values": [{}]}, "mark": {"type": "text", "text": "O", "align": "left", "baseline": "middle", "dx": 262, "fontSize": 14, "color": "#131722"},
     "encoding": {"x": {"datum": "2024-07-05", "type": "ordinal"}, "y": {"datum": 1.3557, "type": "quantitative", "axis": null}}},
    {"data": {"values": [{}]}, "mark": {"type": "text", "text": "1,32884", "align": "left", "baseline": "middle", "dx": 271, "fontSize": 14, "color": "#089981"},
     "encoding": {"x": {"datum": "2024-07-05", "type": "ordinal"}, "y": {"datum": 1.3557, "type": "quantitative", "axis": null}}},
    {"data": {"values": [{}]}, "mark": {"type": "text", "text": "H", "align": "left", "baseline": "middle", "dx": 333, "fontSize": 14, "color": "#131722"},
     "encoding": {"x": {"datum": "2024-07-05", "type": "ordinal"}, "y": {"datum": 1.3557, "type": "quantitative", "axis": null}}},
    {"data": {"values": [{}]}, "mark": {"type": "text", "text": "1,33560", "align": "left", "baseline": "middle", "dx": 343, "fontSize": 14, "color": "#089981"},
     "encoding": {"x": {"datum": "2024-07-05", "type": "ordinal"}, "y": {"datum": 1.3557, "type": "quantitative", "axis": null}}},
    {"data": {"values": [{}]}, "mark": {"type": "text", "text": "L", "align": "left", "baseline": "middle", "dx": 405, "fontSize": 14, "color": "#131722"},
     "encoding": {"x": {"datum": "2024-07-05", "type": "ordinal"}, "y": {"datum": 1.3557, "type": "quantitative", "axis": null}}},
    {"data": {"values": [{}]}, "mark": {"type": "text", "text": "1,32836", "align": "left", "baseline": "middle", "dx": 413, "fontSize": 14, "color": "#089981"},
     "encoding": {"x": {"datum": "2024-07-05", "type": "ordinal"}, "y": {"datum": 1.3557, "type": "quantitative", "axis": null}}},
    {"data": {"values": [{}]}, "mark": {"type": "text", "text": "C", "align": "left", "baseline": "middle", "dx": 474, "fontSize": 14, "color": "#131722"},
     "encoding": {"x": {"datum": "2024-07-05", "type": "ordinal"}, "y": {"datum": 1.3557, "type": "quantitative", "axis": null}}},
    {"data": {"values": [{}]}, "mark": {"type": "text", "text": "1,33529", "align": "left", "baseline": "middle", "dx": 484, "fontSize": 14, "color": "#089981"},
     "encoding": {"x": {"datum": "2024-07-05", "type": "ordinal"}, "y": {"datum": 1.3557, "type": "quantitative", "axis": null}}}
  ],
  "resolve": {"axis": {"y": "independent"}}
}
